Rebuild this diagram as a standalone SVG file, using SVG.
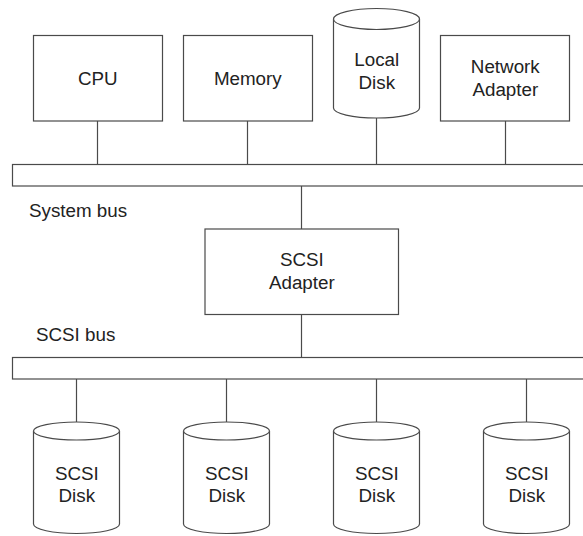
<svg xmlns="http://www.w3.org/2000/svg" width="583" height="536" viewBox="0 0 583 536">
  <style>
    .shape { fill: #ffffff; stroke: #4a4a4a; stroke-width: 1.2; }
    .wire { fill: none; stroke: #4a4a4a; stroke-width: 1.2; }
    .label { font-family: "Liberation Sans", Arial, sans-serif; font-size: 18.8px; fill: #222222; text-anchor: middle; }
    .caption { font-family: "Liberation Sans", Arial, sans-serif; font-size: 18.8px; fill: #222222; }
  </style>
  <rect width="583" height="536" fill="#ffffff"/>

  <!-- connectors: bus taps -->
  <g id="connectors">
    <line class="wire" x1="97.5" y1="121" x2="97.5" y2="164.5"/>
    <line class="wire" x1="247.5" y1="121" x2="247.5" y2="164.5"/>
    <line class="wire" x1="376.5" y1="118" x2="376.5" y2="164.5"/>
    <line class="wire" x1="505.5" y1="121" x2="505.5" y2="164.5"/>
    <line class="wire" x1="301.5" y1="186" x2="301.5" y2="229"/>
    <line class="wire" x1="301.5" y1="314.5" x2="301.5" y2="357.5"/>
    <line class="wire" x1="76.5" y1="379" x2="76.5" y2="422"/>
    <line class="wire" x1="226.5" y1="379" x2="226.5" y2="422"/>
    <line class="wire" x1="376.5" y1="379" x2="376.5" y2="422"/>
    <line class="wire" x1="526.5" y1="379" x2="526.5" y2="422"/>
  </g>

  <!-- buses -->
  <g id="system-bus">
    <rect class="shape" x="12.5" y="164.5" width="600" height="21.5"/>
    <text class="caption" x="29" y="216.5">System bus</text>
  </g>
  <g id="scsi-bus">
    <rect class="shape" x="12.5" y="357.5" width="600" height="21.5"/>
    <text class="caption" x="36" y="340.5">SCSI bus</text>
  </g>

  <!-- host devices -->
  <g id="cpu">
    <rect class="shape" x="33.5" y="35.5" width="129" height="85.5"/>
    <text class="label" x="97.8" y="85.2">CPU</text>
  </g>
  <g id="memory">
    <rect class="shape" x="183.5" y="35.5" width="129" height="85.5"/>
    <text class="label" x="247.8" y="85.2">Memory</text>
  </g>
  <g id="local-disk">
    <path class="shape" d="M333.5,19 L333.5,108 A43 10 0 0 0 419.5,108 L419.5,19"/>
    <ellipse class="shape" cx="376.5" cy="19" rx="43" ry="10.5"/>
    <text class="label" x="376.8" y="65.7">Local</text>
    <text class="label" x="376.8" y="89">Disk</text>
  </g>
  <g id="network-adapter">
    <rect class="shape" x="440.5" y="35.5" width="129" height="85.5"/>
    <text class="label" x="505.3" y="73.3">Network</text>
    <text class="label" x="505.3" y="96">Adapter</text>
  </g>

  <g id="scsi-adapter">
    <rect class="shape" x="205" y="229" width="193.5" height="85.5"/>
    <text class="label" x="301.8" y="266">SCSI</text>
    <text class="label" x="301.8" y="289">Adapter</text>
  </g>

  <!-- SCSI disks -->
  <g id="scsi-disk-1">
    <path class="shape" d="M33.5,431 L33.5,524 A43 9.5 0 0 0 119.5,524 L119.5,431"/>
    <ellipse class="shape" cx="76.5" cy="431" rx="43" ry="9"/>
    <text class="label" x="76.8" y="479.5">SCSI</text>
    <text class="label" x="76.8" y="501.5">Disk</text>
  </g>
  <g id="scsi-disk-2">
    <path class="shape" d="M183.5,431 L183.5,524 A43 9.5 0 0 0 269.5,524 L269.5,431"/>
    <ellipse class="shape" cx="226.5" cy="431" rx="43" ry="9"/>
    <text class="label" x="226.8" y="479.5">SCSI</text>
    <text class="label" x="226.8" y="501.5">Disk</text>
  </g>
  <g id="scsi-disk-3">
    <path class="shape" d="M333.5,431 L333.5,524 A43 9.5 0 0 0 419.5,524 L419.5,431"/>
    <ellipse class="shape" cx="376.5" cy="431" rx="43" ry="9"/>
    <text class="label" x="376.8" y="479.5">SCSI</text>
    <text class="label" x="376.8" y="501.5">Disk</text>
  </g>
  <g id="scsi-disk-4">
    <path class="shape" d="M483.5,431 L483.5,524 A43 9.5 0 0 0 569.5,524 L569.5,431"/>
    <ellipse class="shape" cx="526.5" cy="431" rx="43" ry="9"/>
    <text class="label" x="526.8" y="479.5">SCSI</text>
    <text class="label" x="526.8" y="501.5">Disk</text>
  </g>
</svg>
